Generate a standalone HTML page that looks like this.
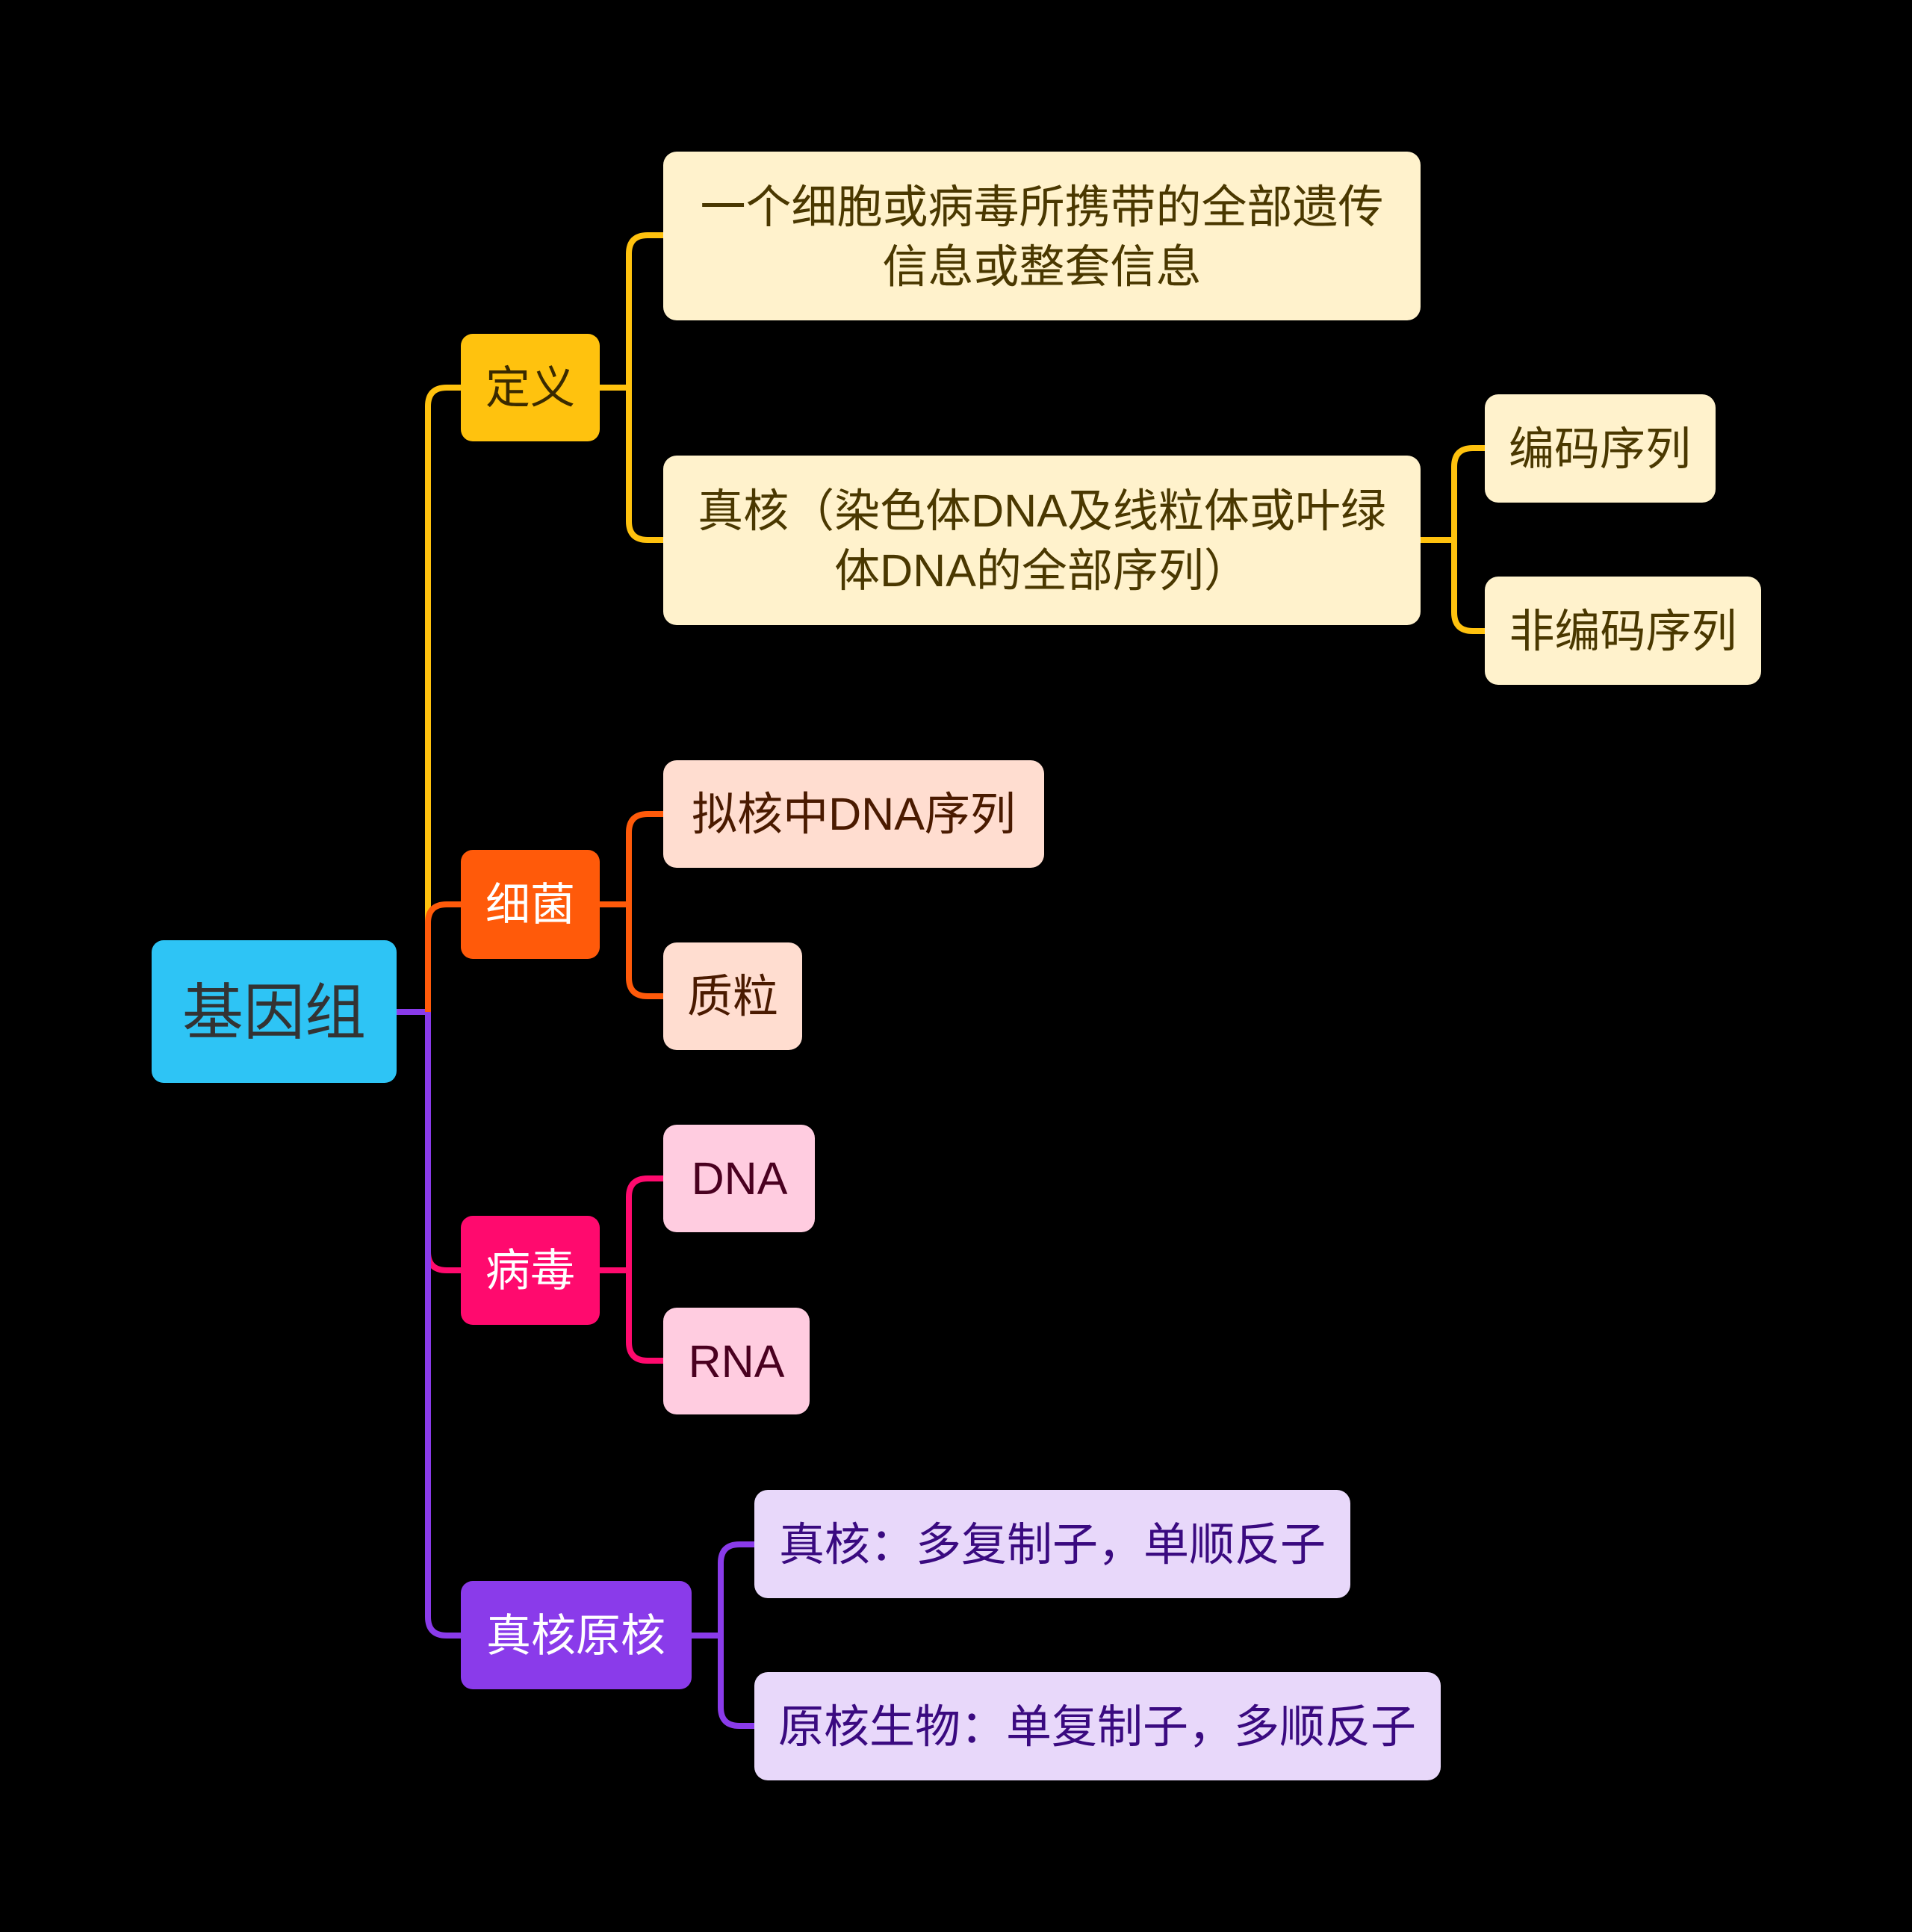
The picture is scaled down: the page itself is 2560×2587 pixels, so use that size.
<!DOCTYPE html>
<html><head><meta charset="utf-8"><style>
html,body{margin:0;padding:0;background:#000;}
svg{display:block;}
text{font-family:"Liberation Sans","Noto Sans CJK SC",sans-serif;}
</style></head><body>
<svg width="2560" height="2587" viewBox="0 0 2560 2587" xmlns="http://www.w3.org/2000/svg">
<rect width="2560" height="2587" fill="#000"/>
<g fill="none" stroke-width="8">
  <path d="M573 1355 V1676 Q573 1701 598 1701 H617" stroke="#FF0A6E"/>
  <path d="M573 1355 V2165 Q573 2190 598 2190 H617" stroke="#8A3BEA"/>
  <path d="M531 1355 H573" stroke="#8A3BEA"/>
  <path d="M573 1355 V544 Q573 519 598 519 H617" stroke="#FFC20E"/>
  <path d="M573 1355 V1236 Q573 1211 598 1211 H617" stroke="#FF5A0A"/>
  <path d="M803 519 H842 M888 315 H867 Q842 315 842 340 V698 Q842 723 867 723 H888" stroke="#FFC20E"/>
  <path d="M803 1211 H842 M888 1090 H867 Q842 1090 842 1115 V1309 Q842 1334 867 1334 H888" stroke="#FF5A0A"/>
  <path d="M803 1701 H842 M888 1578 H867 Q842 1578 842 1603 V1797 Q842 1822 867 1822 H888" stroke="#FF0A6E"/>
  <path d="M926 2190 H965 M1010 2068 H990 Q965 2068 965 2093 V2286 Q965 2311 990 2311 H1010" stroke="#8A3BEA"/>
  <path d="M1902 723 H1947 M1988 600 H1972 Q1947 600 1947 625 V820 Q1947 845 1972 845 H1988" stroke="#FFC20E"/>
</g>
<rect x="203" y="1259" width="328" height="191" rx="16" fill="#2EC4F5"/>
<text x="367" y="1384" font-size="82" fill="#333" text-anchor="middle">基因组</text>
<rect x="617" y="447" width="186" height="144" rx="16" fill="#FFC20E"/>
<text x="710" y="540" font-size="60" fill="#3a2a00" text-anchor="middle">定义</text>
<rect x="617" y="1138" width="186" height="146" rx="16" fill="#FF5A0A"/>
<text x="710" y="1232" font-size="60" fill="#fff" text-anchor="middle">细菌</text>
<rect x="617" y="1628" width="186" height="146" rx="16" fill="#FF0A6E"/>
<text x="710" y="1722" font-size="60" fill="#fff" text-anchor="middle">病毒</text>
<rect x="617" y="2117" width="309" height="145" rx="16" fill="#8A3BEA"/>
<text x="771" y="2211" font-size="60" fill="#fff" text-anchor="middle">真核原核</text>
<g font-size="61" text-anchor="middle">
<rect x="888" y="203" width="1014" height="226" rx="18" fill="#FFF2CC"/>
<text x="1395" y="298" fill="#4a3800">一个细胞或病毒所携带的全部遗传</text>
<text x="1395" y="378" fill="#4a3800">信息或整套信息</text>
<rect x="888" y="610" width="1014" height="227" rx="18" fill="#FFF2CC"/>
<text x="1395" y="705" fill="#4a3800">真核（染色体DNA及线粒体或叶绿</text>
<text x="1395" y="785" fill="#4a3800">体DNA的全部序列）</text>
<rect x="1988" y="528" width="309" height="145" rx="18" fill="#FFF2CC"/>
<text x="2142" y="622" fill="#4a3800">编码序列</text>
<rect x="1988" y="772" width="370" height="145" rx="18" fill="#FFF2CC"/>
<text x="2173" y="866" fill="#4a3800">非编码序列</text>
<rect x="888" y="1018" width="510" height="144" rx="18" fill="#FFDDD0"/>
<text x="1143" y="1111" fill="#4a1a00">拟核中DNA序列</text>
<rect x="888" y="1262" width="186" height="144" rx="18" fill="#FFDDD0"/>
<text x="981" y="1355" fill="#4a1a00">质粒</text>
<rect x="888" y="1506" width="203" height="144" rx="18" fill="#FFCCE0"/>
<text x="990" y="1599" fill="#4a0020">DNA</text>
<rect x="888" y="1751" width="196" height="143" rx="18" fill="#FFCCE0"/>
<text x="986" y="1844" fill="#4a0020">RNA</text>
<rect x="1010" y="1995" width="798" height="145" rx="18" fill="#E8D8FA"/>
<text x="1409" y="2089" fill="#3a0a80">真核：多复制子，单顺反子</text>
<rect x="1010" y="2239" width="919" height="145" rx="18" fill="#E8D8FA"/>
<text x="1469" y="2333" fill="#3a0a80">原核生物：单复制子，多顺反子</text>
</g>
</svg>
</body></html>
